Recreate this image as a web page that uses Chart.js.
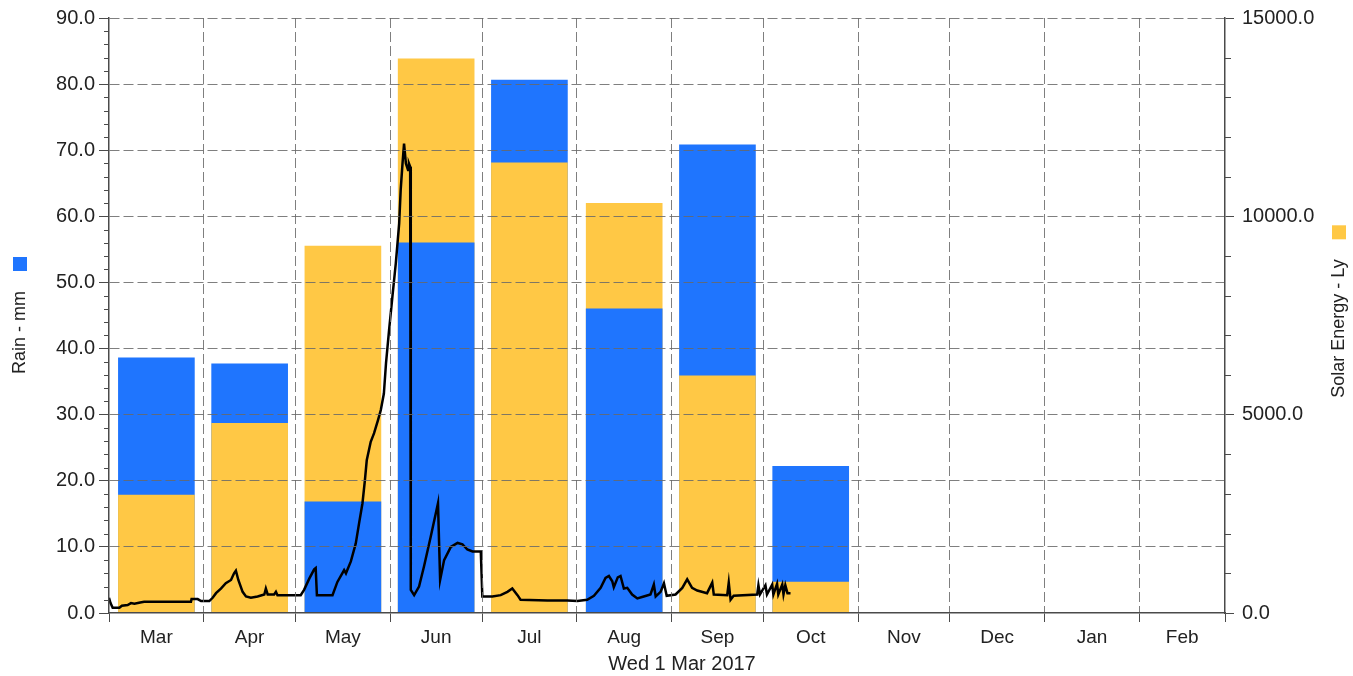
<!DOCTYPE html>
<html>
<head>
<meta charset="utf-8">
<script src="https://cdn.jsdelivr.net/npm/chart.js@4.4.1/dist/chart.umd.min.js"></script>
<style>
  html, body { margin: 0; padding: 0; background: #fff; }
  #wrap { width: 1353px; height: 676px; position: relative; }
</style>
</head>
<body>
<div id="wrap"><canvas id="c"></canvas></div>
<script>
// Season starting Wed 1 Mar 2017
const months = ['Mar', 'Apr', 'May', 'Jun', 'Jul', 'Aug', 'Sep', 'Oct', 'Nov', 'Dec', 'Jan', 'Feb'];
const monthDays = [31, 30, 31, 30, 31, 31, 30, 31, 30, 31, 31, 28];

// Monthly totals
const rainMm = [38.6, 37.7, 16.8, 56.0, 80.6, 46.0, 70.8, 22.2, 0, 0, 0, 0];
const solarLy = [2975, 4780, 9250, 13970, 11350, 10330, 5980, 780, 0, 0, 0, 0];

// Axis ranges
const rainAxis = { max: 90, step: 10, minor: 2 };
const solarAxis = { max: 15000, step: 5000, minor: 1000 };

// Running trace (day since 1 Mar, value in mm)
const lineDay = [
  0, 0.5, 1.2, 3.4, 4.2, 6.1, 7.2, 8.3, 10.2, 11.5,
  26.8, 27.0, 29.0, 30.1, 32.8, 33.9, 35.0, 36.6, 38.2, 39.9,
  40.9, 41.5, 42.3, 43.7, 44.8, 46.4, 48.6, 50.8, 51.3, 51.9,
  54.0, 54.6, 55.1, 62.7, 63.8, 65.5, 67.1, 67.6, 68.0, 73.1,
  74.7, 76.9, 77.5, 79.1, 80.7, 81.8, 82.9, 83.7, 84.3, 85.6,
  86.7, 88.0, 88.9, 89.9, 90.6, 91.6, 92.7, 93.8, 94.9, 95.4,
  96.0, 96.5, 97.1, 97.8, 98.1, 98.5, 98.7, 99.8, 101.4, 103.0,
  105.2, 107.6, 108.3, 109.6, 111.8, 114.0, 115.6, 117.2, 118.9, 121.6,
  122.1, 125.4, 128.1, 130.3, 131.9, 133.6, 134.6, 143.4, 149.9, 153.2,
  156.4, 158.6, 160.8, 162.4, 163.5, 164.6, 165.1, 166.4, 167.3, 168.4,
  169.5, 171.1, 172.8, 174.9, 177.1, 178.2, 178.8, 180.4, 181.5, 182.4,
  185.3, 187.5, 189.1, 190.7, 192.4, 195.6, 197.3, 197.8, 202.2, 202.7,
  203.3, 204.3, 212.0, 212.4, 212.9, 214.7, 215.2, 216.9, 217.3, 218.5,
  218.9, 220.2, 220.6, 221.2, 221.9, 222.9
];
const lineValue = [
  2.3, 1.5, 0.8, 0.8, 1.1, 1.2, 1.5, 1.4, 1.6, 1.7,
  1.7, 2.1, 2.1, 1.8, 1.8, 2.3, 3.0, 3.7, 4.5, 5.0,
  6.0, 6.4, 5.0, 3.2, 2.5, 2.3, 2.5, 2.8, 3.7, 2.8,
  2.8, 3.2, 2.7, 2.7, 3.5, 5.2, 6.6, 6.8, 2.7, 2.7,
  4.7, 6.5, 6.0, 7.8, 10.5, 13.6, 16.6, 20.1, 23.1, 25.9,
  27.2, 29.2, 30.7, 33.2, 37.8, 42.8, 47.9, 52.9, 58.9, 64.0,
  68.0, 71.0, 68.0, 67.0, 68.0, 67.5, 3.5, 2.7, 4.0, 7.0,
  11.5, 16.6, 5.0, 8.0, 10.0, 10.6, 10.4, 9.6, 9.3, 9.3,
  2.5, 2.5, 2.7, 3.2, 3.7, 2.7, 2.0, 1.9, 1.9, 1.8,
  2.0, 2.6, 3.8, 5.3, 5.6, 4.8, 3.9, 5.4, 5.6, 3.7,
  3.8, 2.8, 2.2, 2.5, 2.8, 4.3, 2.5, 3.2, 4.5, 2.6,
  2.8, 3.8, 5.1, 3.8, 3.4, 3.0, 4.6, 2.8, 2.7, 4.6,
  2.0, 2.6, 2.8, 4.2, 2.8, 4.2, 2.8, 4.3, 2.8, 4.4,
  2.8, 4.3, 2.8, 4.2, 3.0, 3.0
];

const RAIN_COLOR = '#1F75FE';
const SOLAR_COLOR = '#FFC845';
const GRID_COLOR = 'rgba(105,105,105,0.85)';
const AXIS_COLOR = '#4a4a4a';
const TEXT_COLOR = '#222';
const FONT = "'Liberation Sans', Arial, sans-serif";

// Month boundaries and mid points on the day axis
const bounds = [0];
monthDays.forEach(d => bounds.push(bounds[bounds.length - 1] + d));
const mids = monthDays.map((d, i) => bounds[i] + d / 2);
const totalDays = bounds[bounds.length - 1];
const xTickValues = bounds.concat(mids).sort((a, b) => a - b);
const isBound = v => bounds.some(b => Math.abs(b - v) < 1e-6);
const labelFor = v => {
  const i = mids.findIndex(m => Math.abs(m - v) < 1e-6);
  return i >= 0 ? months[i] : '';
};

// The shorter of the two bars of a month is drawn in front of the taller one
const rainRel = rainMm.map(v => v / rainAxis.max);
const solarRel = solarLy.map(v => v / solarAxis.max);
const rainTaller = rainMm.map((v, i) => rainRel[i] >= solarRel[i]);
const pts = (arr, keep) => arr.map((v, i) => ({ x: mids[i], y: keep(i) ? v : null }));

const barCommon = { type: 'bar', grouped: false, barThickness: 76, borderWidth: 0, xAxisID: 'x' };

const datasets = [
  Object.assign({}, barCommon, { label: 'Rain - mm', yAxisID: 'y', order: 3,
    backgroundColor: RAIN_COLOR, data: pts(rainMm, i => rainTaller[i]) }),
  Object.assign({}, barCommon, { label: 'Solar Energy - Ly', yAxisID: 'y1', order: 3,
    backgroundColor: SOLAR_COLOR, data: pts(solarLy, i => !rainTaller[i]) }),
  Object.assign({}, barCommon, { label: 'Rain - mm', yAxisID: 'y', order: 2,
    backgroundColor: RAIN_COLOR, data: pts(rainMm, i => !rainTaller[i]) }),
  Object.assign({}, barCommon, { label: 'Solar Energy - Ly', yAxisID: 'y1', order: 2,
    backgroundColor: SOLAR_COLOR, data: pts(solarLy, i => rainTaller[i]) }),
  {
    type: 'line', label: 'trace', xAxisID: 'x', yAxisID: 'y', order: 1,
    data: lineDay.map((d, i) => ({ x: d, y: lineValue[i] })),
    borderColor: '#000', borderWidth: 2.5, pointRadius: 0, tension: 0, fill: false
  }
];

// Axis titles with their colour keys, minor tick marks and the date caption
const decorations = {
  id: 'decorations',
  afterDraw(chart) {
    const { ctx, chartArea, scales } = chart;
    ctx.save();
    ctx.strokeStyle = AXIS_COLOR;
    ctx.lineWidth = 1;
    ctx.beginPath();
    for (let v = rainAxis.minor; v < rainAxis.max; v += rainAxis.minor) {
      if (v % rainAxis.step === 0) continue;
      const y = Math.round(scales.y.getPixelForValue(v)) + 0.5;
      ctx.moveTo(chartArea.left - 5, y); ctx.lineTo(chartArea.left, y);
    }
    for (let v = solarAxis.minor; v < solarAxis.max; v += solarAxis.minor) {
      if (v % solarAxis.step === 0) continue;
      const y = Math.round(scales.y1.getPixelForValue(v)) + 0.5;
      ctx.moveTo(chartArea.right, y); ctx.lineTo(chartArea.right + 6, y);
    }
    ctx.stroke();

    const midY = (chartArea.top + chartArea.bottom) / 2;
    ctx.font = '18px ' + FONT;
    ctx.fillStyle = TEXT_COLOR;
    const sideTitle = (text, color, x, shift) => {
      const sq = 14, gap = 20;
      const w = ctx.measureText(text).width;
      const total = w + gap + sq;
      ctx.save();
      ctx.translate(x, midY + shift);
      ctx.rotate(-Math.PI / 2);
      ctx.textAlign = 'left';
      ctx.textBaseline = 'middle';
      ctx.fillStyle = TEXT_COLOR;
      ctx.fillText(text, -total / 2, 0);
      ctx.fillStyle = color;
      ctx.fillRect(-total / 2 + w + gap, -sq / 2, sq, sq);
      ctx.restore();
    };
    sideTitle('Rain - mm', RAIN_COLOR, 20, 0);
    sideTitle('Solar Energy - Ly', SOLAR_COLOR, 1339, -4);

    ctx.font = '20px ' + FONT;
    ctx.textAlign = 'center';
    ctx.textBaseline = 'middle';
    ctx.fillStyle = TEXT_COLOR;
    ctx.fillText('Wed 1 Mar 2017', (chartArea.left + chartArea.right) / 2 + 15, 664);
    ctx.restore();
  }
};

Chart.defaults.font.family = FONT;
Chart.defaults.font.size = 20;
Chart.defaults.color = TEXT_COLOR;

new Chart(document.getElementById('c'), {
  type: 'bar',
  data: { datasets },
  plugins: [decorations],
  options: {
    responsive: true,
    maintainAspectRatio: false,
    animation: false,
    layout: { padding: { top: 16, left: 0, right: 0, bottom: 0 } },
    plugins: { legend: { display: false }, tooltip: { enabled: false } },
    scales: {
      x: {
        type: 'linear', position: 'bottom', min: 0, max: totalDays, offset: false,
        afterBuildTicks: s => { s.ticks = xTickValues.map(v => ({ value: v })); },
        afterFit: s => { s.height = 63; },
        ticks: { autoSkip: false, maxRotation: 0, minRotation: 0, padding: 4,
          font: { size: 19 }, callback: v => labelFor(v), color: TEXT_COLOR },
        grid: {
          offset: false, z: 1, lineWidth: 1, tickLength: 9, tickWidth: 1,
          color: c => (c.tick && isBound(c.tick.value) && c.tick.value > 0 && c.tick.value < totalDays) ? GRID_COLOR : 'rgba(0,0,0,0)',
          tickColor: c => (c.tick && isBound(c.tick.value)) ? AXIS_COLOR : 'rgba(0,0,0,0)'
        },
        border: { display: true, color: AXIS_COLOR, width: 1.5, dash: [10, 4], z: 2 }
      },
      y: {
        type: 'linear', position: 'left', min: 0, max: rainAxis.max,
        afterFit: s => { s.width = 109; },
        ticks: { stepSize: rainAxis.step, padding: 4, font: { size: 20, lineHeight: 1 },
          callback: v => Number(v).toFixed(1), color: TEXT_COLOR },
        grid: {
          z: 1, lineWidth: 1, tickLength: 10, tickWidth: 1,
          color: c => (c.tick && c.tick.value > 0) ? GRID_COLOR : 'rgba(0,0,0,0)',
          tickColor: AXIS_COLOR
        },
        border: { display: true, color: AXIS_COLOR, width: 1.5, dash: [10, 4], z: 2 }
      },
      y1: {
        type: 'linear', position: 'right', min: 0, max: solarAxis.max,
        afterFit: s => { s.width = 128; },
        ticks: { stepSize: solarAxis.step, padding: 8, font: { size: 20, lineHeight: 1 },
          callback: v => Number(v).toFixed(1), color: TEXT_COLOR },
        grid: { drawOnChartArea: false, tickLength: 9, tickWidth: 1, tickColor: AXIS_COLOR },
        border: { display: true, color: AXIS_COLOR, width: 1.5, z: 2 }
      }
    }
  }
});
</script>
</body>
</html>
